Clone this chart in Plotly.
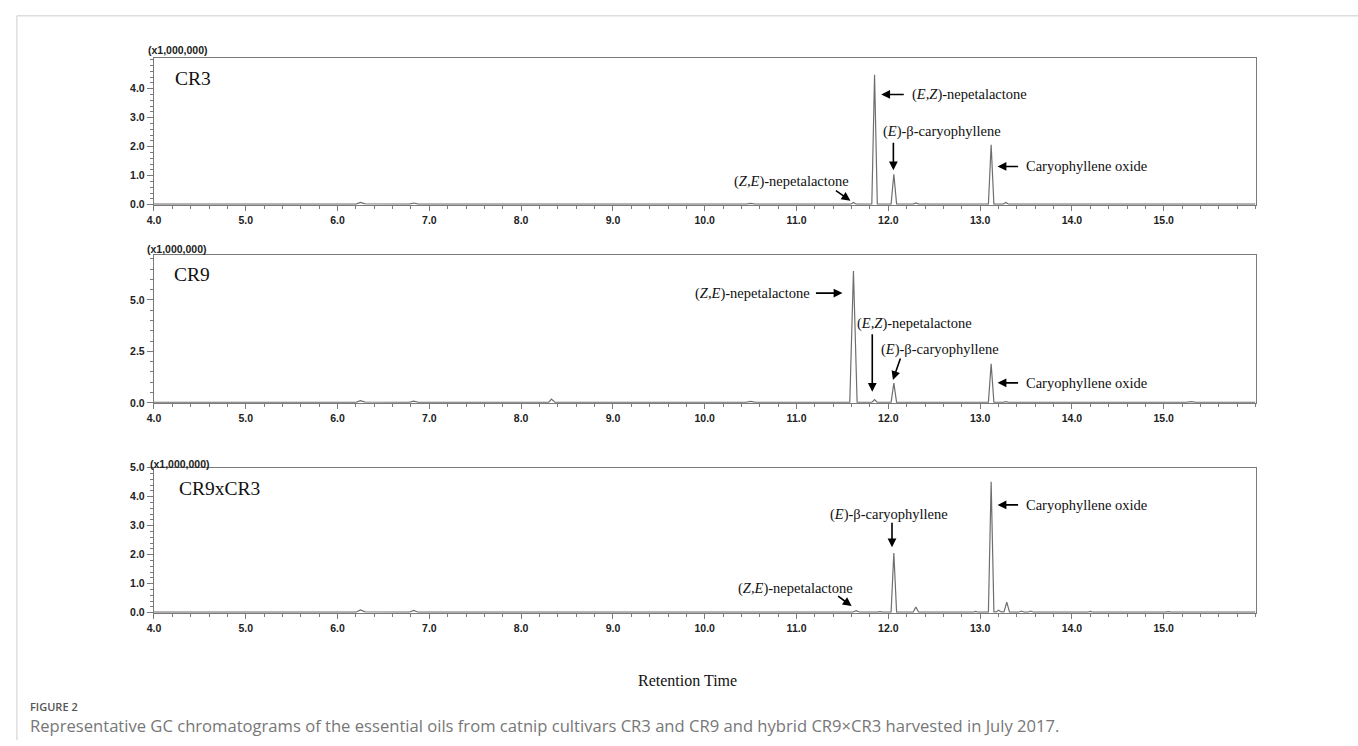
import plotly.graph_objects as go

W, H = 1358, 746

# ---------------- data ----------------
rt_cr3 = [4.00, 4.80, 5.00, 5.70, 6.20, 6.25, 6.30, 6.78, 6.83, 6.88, 7.50, 8.30, 8.35, 8.40,
          9.50, 10.45, 10.50, 10.55, 11.59, 11.62, 11.65, 11.82, 11.85, 11.88, 12.03, 12.06,
          12.09, 12.27, 12.30, 12.33, 13.09, 13.12, 13.15, 13.25, 13.28, 13.31, 14.00, 15.00, 16.00]
int_cr3 = [0.02, 0.02, 0.03, 0.03, 0.02, 0.08, 0.03, 0.02, 0.06, 0.02, 0.02, 0.02, 0.04, 0.02,
           0.02, 0.02, 0.05, 0.02, 0.02, 0.08, 0.02, 0.02, 4.48, 0.02, 0.02, 1.05,
           0.02, 0.02, 0.06, 0.02, 0.02, 2.07, 0.02, 0.02, 0.08, 0.02, 0.02, 0.02, 0.02]

rt_cr9 = [4.00, 4.80, 5.00, 5.70, 6.20, 6.25, 6.30, 6.78, 6.83, 6.88, 7.50, 8.30, 8.33, 8.37,
          9.50, 10.45, 10.50, 10.55, 11.58, 11.62, 11.66, 11.82, 11.85, 11.88, 12.03, 12.06,
          12.09, 12.27, 12.30, 12.33, 13.09, 13.12, 13.15, 13.25, 13.28, 13.31, 14.00, 15.25,
          15.30, 15.35, 16.00]
int_cr9 = [0.02, 0.02, 0.03, 0.03, 0.02, 0.10, 0.03, 0.02, 0.08, 0.02, 0.02, 0.02, 0.18, 0.02,
           0.02, 0.02, 0.07, 0.02, 0.02, 6.40, 0.02, 0.02, 0.16, 0.02, 0.02, 0.96,
           0.02, 0.02, 0.05, 0.02, 0.02, 1.90, 0.02, 0.02, 0.06, 0.02, 0.02, 0.02,
           0.06, 0.02, 0.02]

rt_hyb = [4.00, 4.80, 5.00, 5.70, 6.20, 6.25, 6.30, 6.78, 6.83, 6.88, 7.50, 8.30, 8.35, 8.40,
          9.50, 10.45, 10.50, 10.55, 11.61, 11.65, 11.69, 11.88, 11.91, 11.94, 12.03, 12.06,
          12.09, 12.27, 12.30, 12.33, 12.92, 12.95, 12.98, 13.09, 13.12, 13.15, 13.18, 13.20,
          13.23, 13.26, 13.29, 13.32, 13.42, 13.45, 13.48, 13.52, 13.55, 13.58, 14.17, 14.20,
          14.23, 15.02, 15.05, 15.08, 16.00]
int_hyb = [0.02, 0.02, 0.03, 0.03, 0.02, 0.10, 0.03, 0.02, 0.08, 0.02, 0.02, 0.02, 0.04, 0.02,
           0.02, 0.02, 0.04, 0.02, 0.02, 0.07, 0.02, 0.02, 0.04, 0.02, 0.02, 2.06,
           0.02, 0.02, 0.20, 0.02, 0.02, 0.05, 0.02, 0.02, 4.52, 0.03, 0.03, 0.09,
           0.03, 0.03, 0.37, 0.02, 0.02, 0.06, 0.02, 0.02, 0.06, 0.02, 0.02, 0.05,
           0.02, 0.02, 0.04, 0.02, 0.02]

panel_names = ["CR3", "CR9", "CR9xCR3"]
y_ranges = [[0, 5.04], [0, 7.17], [0, 5.0]]
y_tickvals = [[0, 1, 2, 3, 4], [0, 2.5, 5.0], [0, 1, 2, 3, 4, 5]]
y_minor = [0.2, 0.5, 0.2]
x_tickvals = [4, 5, 6, 7, 8, 9, 10, 11, 12, 13, 14, 15]

# peak labels: (panel, text, x, y, xanchor)
labels = [
    (0, "(<i>E,Z</i>)-nepetalactone", 12.237, 3.80, "left"),
    (0, "(<i>E</i>)-β-caryophyllene", 12.584, 2.51, "center"),
    (0, "Caryophyllene oxide", 13.483, 1.32, "left"),
    (0, "(<i>Z,E</i>)-nepetalactone", 10.948, 0.81, "center"),
    (1, "(<i>Z,E</i>)-nepetalactone", 11.165, 5.33, "right"),
    (1, "(<i>E,Z</i>)-nepetalactone", 12.29, 3.84, "center"),
    (1, "(<i>E</i>)-β-caryophyllene", 12.56, 2.60, "center"),
    (1, "Caryophyllene oxide", 13.483, 0.97, "left"),
    (2, "(<i>E</i>)-β-caryophyllene", 12.01, 3.38, "center"),
    (2, "Caryophyllene oxide", 13.483, 3.72, "left"),
    (2, "(<i>Z,E</i>)-nepetalactone", 10.99, 0.84, "center"),
]
# arrows: (panel, head x, head y, tail dx px, tail dy px)
arrows = [
    (0, 11.923, 3.80, 24, 0),
    (0, 12.055, 1.19, 0, -29),
    (0, 13.19, 1.32, 22, 0),
    (0, 11.587, 0.14, -16, -11),
    (1, 11.50, 5.33, -28, 0),
    (1, 11.825, 0.54, 0, -59),
    (1, 12.05, 1.11, 8, -23),
    (1, 13.19, 0.97, 22, 0),
    (2, 12.04, 2.26, 0, -26),
    (2, 13.19, 3.72, 22, 0),
    (2, 11.60, 0.23, -15, -11),
]

# ---------------- layout helpers ----------------
def px_x(p):
    return p / W

def px_y(p):
    return 1 - p / H

x_left, x_right = 147.7, 1255
panel_px = [(53.3, 202.0), (253.3, 403.3), (469.3, 616.7)]
scale_lab_px = [(140, 45), (139, 247), (142, 465)]
name_px = [(167, 74), (166, 273), (171, 490)]

series = [(rt_cr3, int_cr3), (rt_cr9, int_cr9), (rt_hyb, int_hyb)]

fig = go.Figure()
axis_col = "#7a7a7a"
tick_font = dict(family="Liberation Sans, Arial", size=10.5, color="#222", weight="bold")
serif = "Liberation Serif, Times New Roman, serif"

annotations = []
for i, (xs, ys) in enumerate(series):
    xa = "x" if i == 0 else f"x{i+1}"
    ya = "y" if i == 0 else f"y{i+1}"
    fig.add_trace(go.Scatter(x=xs, y=ys, mode="lines", xaxis=xa, yaxis=ya,
                             line=dict(color="#6e6e6e", width=1.2), showlegend=False,
                             hoverinfo="skip"))
    top, bot = panel_px[i]
    key = "" if i == 0 else str(i + 1)
    fig.layout["xaxis" + key] = dict(
        domain=[px_x(x_left), px_x(x_right)], anchor=ya, range=[4, 16],
        tickvals=x_tickvals, ticktext=[f"{v:.1f}" for v in x_tickvals],
        ticks="outside", ticklen=5, tickcolor=axis_col, tickwidth=1,
        minor=dict(dtick=0.2, tick0=4, ticks="outside", ticklen=3, tickcolor=axis_col),
        showline=True, linecolor=axis_col, linewidth=1.3, mirror=True,
        showgrid=False, zeroline=False, tickfont=tick_font, fixedrange=True)
    fig.layout["yaxis" + key] = dict(
        domain=[px_y(bot), px_y(top)], anchor=xa, range=y_ranges[i],
        tickvals=y_tickvals[i], ticktext=[f"{v:.1f}" for v in y_tickvals[i]],
        ticks="outside", ticklen=6, tickcolor=axis_col, tickwidth=1,
        minor=dict(dtick=y_minor[i], tick0=0, ticks="outside", ticklen=3, tickcolor=axis_col),
        showline=True, linecolor=axis_col, linewidth=1.3, mirror=True,
        showgrid=False, zeroline=False, tickfont=tick_font, fixedrange=True)
    sx, sy = scale_lab_px[i]
    annotations.append(dict(xref="paper", yref="paper", x=px_x(sx), y=px_y(sy),
                            xanchor="left", yanchor="middle", showarrow=False,
                            text="(x1,000,000)", font=tick_font))
    nx, ny = name_px[i]
    annotations.append(dict(xref="paper", yref="paper", x=px_x(nx), y=px_y(ny),
                            xanchor="left", yanchor="middle", showarrow=False,
                            text=panel_names[i], font=dict(family=serif, size=19.5, color="#111")))

for (p, t, x, y, xanc) in labels:
    xa = "x" if p == 0 else f"x{p+1}"
    ya = "y" if p == 0 else f"y{p+1}"
    annotations.append(dict(xref=xa, yref=ya, x=x, y=y, text=t, showarrow=False,
                            xanchor=xanc, yanchor="middle",
                            font=dict(family=serif, size=14.5, color="#111")))
for (p, x, y, dx, dy) in arrows:
    xa = "x" if p == 0 else f"x{p+1}"
    ya = "y" if p == 0 else f"y{p+1}"
    annotations.append(dict(xref=xa, yref=ya, x=x, y=y, text="", showarrow=True,
                            ax=dx, ay=dy, arrowhead=2, arrowsize=1.1, arrowwidth=1.6,
                            arrowcolor="#000", standoff=0, startstandoff=0))

annotations.append(dict(xref="paper", yref="paper", x=px_x(684), y=px_y(686),
                        text="Retention Time", showarrow=False, xanchor="center", yanchor="middle",
                        font=dict(family=serif, size=16, color="#111")))
annotations.append(dict(xref="paper", yref="paper", x=px_x(21), y=px_y(712),
                        text="FIGURE 2", showarrow=False, xanchor="left", yanchor="middle",
                        font=dict(family="Open Sans", size=11, color="#555", weight=600)))
annotations.append(dict(xref="paper", yref="paper", x=px_x(21), y=px_y(731),
                        text="Representative GC chromatograms of the essential oils from catnip cultivars CR3 and CR9 and hybrid CR9×CR3 harvested in July 2017.",
                        showarrow=False, xanchor="left", yanchor="middle",
                        font=dict(family="Open Sans", size=16.6, color="#777")))

shapes = [
    dict(type="line", xref="paper", yref="paper", x0=px_x(10), x1=1.0, y0=px_y(10), y1=px_y(10),
         line=dict(color="#cccccc", width=1)),
    dict(type="line", xref="paper", yref="paper", x0=px_x(10), x1=px_x(10), y0=px_y(10), y1=0,
         line=dict(color="#cccccc", width=1)),
]

fig.update_layout(width=W, height=H, margin=dict(l=0, r=0, t=0, b=0),
                  paper_bgcolor="white", plot_bgcolor="white",
                  annotations=annotations, shapes=shapes, showlegend=False)

fig.write_html("out.html", config={"displayModeBar": False},
               post_script="document.body.style.margin='0px';document.body.style.overflow='hidden';")
